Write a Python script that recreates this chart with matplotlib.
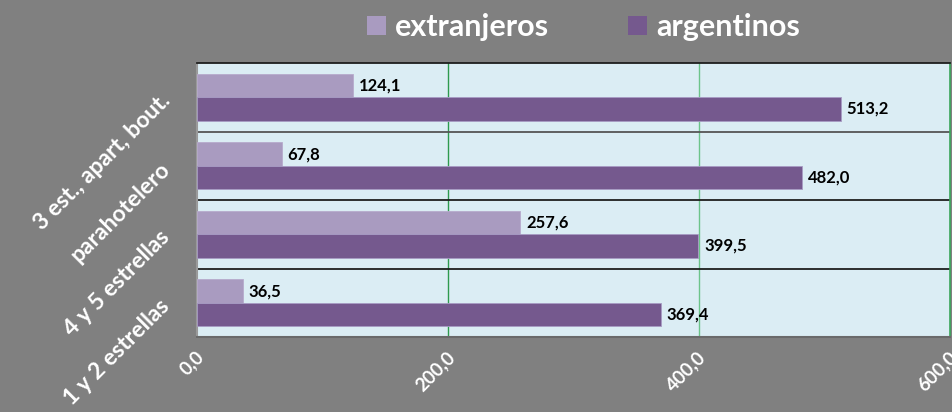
import numpy as np
import matplotlib
matplotlib.use("Agg")
import matplotlib.pyplot as plt
import matplotlib.transforms as mtransforms
from matplotlib.patches import Patch

# data, top to bottom as in the chart
categories = ['3 est., apart, bout.', 'parahotelero', '4 y 5 estrellas', '1 y 2 estrellas']
extranjeros = [124.1, 67.8, 257.6, 36.5]
argentinos = [513.2, 482.0, 399.5, 369.4]
x_ticks = [0, 200, 400, 600]

col_ext = '#a99bc0'
col_arg = '#75598e'
bg = '#808080'
plot_bg = '#dbedf4'

plt.rcParams['font.family'] = ['Lato', 'DejaVu Sans']

fig = plt.figure(figsize=(9.52, 4.12), dpi=100)
fig.patch.set_facecolor(bg)
ax = fig.add_axes([0.207, 0.182, 0.791, 0.665])
ax.set_facecolor(plot_bg)

y = np.arange(len(categories))
h = 0.34
ax.barh(y - h/2, extranjeros, height=h, color=col_ext, edgecolor='#b7abcc', linewidth=0.6, zorder=3)
ax.barh(y + h/2, argentinos, height=h, color=col_arg, edgecolor='#a79cc4', linewidth=0.6, zorder=3)

def fmt(v):
    return ('%.1f' % v).replace('.', ',')

# data labels
for yi, v in zip(y - h/2, extranjeros):
    ax.annotate(fmt(v), (v, yi), xytext=(4, 0), textcoords='offset points',
                va='center', ha='left', fontsize=12, fontweight='bold', color='black', zorder=4)
for yi, v in zip(y + h/2, argentinos):
    ax.annotate(fmt(v), (v, yi), xytext=(4, 0), textcoords='offset points',
                va='center', ha='left', fontsize=12, fontweight='bold', color='black', zorder=4)

ax.set_xlim(0, 600)
ax.set_ylim(len(categories) - 0.5, -0.5)

# vertical gridlines
ax.axvline(200, color='#2e9a4e', lw=1.0, zorder=1)
ax.axvline(400, color='#6cc48a', lw=1.0, zorder=1)
# category separators
for b, c in zip([0.5, 1.5, 2.5], ['#555555', '#1e1e1e', '#1e1e1e']):
    ax.axhline(b, color=c, lw=1.3, zorder=2)

ax.spines['top'].set_color('#1e1e1e')
ax.spines['top'].set_linewidth(1.3)
ax.spines['right'].set_color('#3aa65a')
ax.spines['right'].set_linewidth(1.2)
ax.spines['left'].set_color('#9a9a9a')
ax.spines['left'].set_linewidth(1.5)
ax.spines['bottom'].set_color('#6a6a6a')
ax.spines['bottom'].set_linewidth(1.5)

ax.set_xticks(x_ticks)
ax.set_xticklabels([fmt(t) for t in x_ticks], rotation=45, ha='right', va='top',
                   rotation_mode='anchor', fontsize=13.5, fontweight='bold', color='white')
ax.set_yticks(y)
ax.set_yticklabels(categories, rotation=45, ha='right', va='center',
                   rotation_mode='anchor', fontsize=16.5, fontweight='bold', color='white')
ax.tick_params(axis='both', length=0)
ax.tick_params(axis='x', pad=8)
ax.tick_params(axis='y', pad=22)
shift = mtransforms.ScaledTranslation(-2/100, 0, fig.dpi_scale_trans)
for lbl in ax.get_xticklabels():
    lbl.set_transform(lbl.get_transform() + shift)

handles = [Patch(facecolor=col_ext, label='extranjeros'),
           Patch(facecolor=col_arg, label='argentinos')]
leg = fig.legend(handles=handles, loc='center', bbox_to_anchor=(0.613, 0.934), ncol=2,
                 frameon=False, handlelength=0.6, handleheight=0.6,
                 handletextpad=0.3, columnspacing=2.6, prop={'weight': 'bold', 'size': 22})
for t in leg.get_texts():
    t.set_color('white')

fig.savefig('out.png', dpi=100, facecolor=bg)
